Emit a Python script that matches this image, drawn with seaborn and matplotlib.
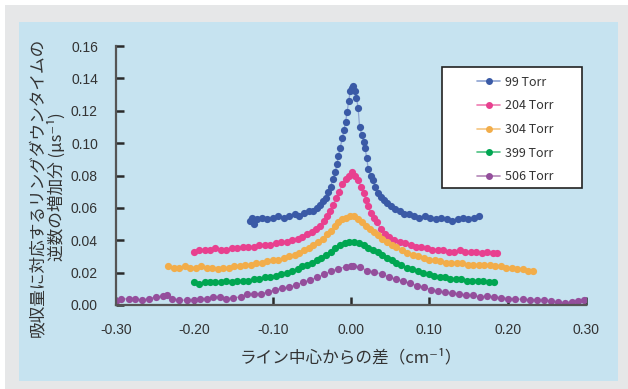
import numpy as np
import pandas as pd
import matplotlib
matplotlib.use("Agg")
import matplotlib.pyplot as plt
from matplotlib.lines import Line2D
from matplotlib.patches import Rectangle
import seaborn as sns

# ---- data ----
labels = ["99 Torr", "204 Torr", "304 Torr", "399 Torr", "506 Torr"]
colors = ["#3a5aa6", "#e8408f", "#f2ad4a", "#00a652", "#944f9c"]
line_colors = ["#8da3d2", "#ef7db2", "#f5c580", "#4dc182", "#b487b8"]

x_99 = [-0.129, -0.126, -0.124, -0.120, -0.114, -0.107, -0.100, -0.093, -0.086, -0.079,
        -0.072, -0.066, -0.060, -0.054, -0.049, -0.044, -0.040, -0.036, -0.032, -0.029,
        -0.026, -0.023, -0.020, -0.018, -0.016, -0.014, -0.011, -0.009, -0.007, -0.005,
        -0.003, -0.001, 0.001, 0.003, 0.005, 0.007, 0.009, 0.011, 0.014, 0.016,
        0.018, 0.020, 0.022, 0.025, 0.028, 0.031, 0.034, 0.038, 0.042, 0.046,
        0.051, 0.056, 0.062, 0.068, 0.074, 0.080, 0.087, 0.094, 0.101, 0.108,
        0.115, 0.122, 0.129, 0.136, 0.143, 0.150, 0.157, 0.163]
y_99 = [0.052, 0.054, 0.050, 0.053, 0.054, 0.053, 0.054, 0.055, 0.054, 0.055,
        0.056, 0.055, 0.057, 0.058, 0.058, 0.060, 0.062, 0.064, 0.066, 0.070,
        0.073, 0.078, 0.082, 0.087, 0.092, 0.097, 0.103, 0.108, 0.113, 0.119,
        0.126, 0.132, 0.134, 0.135, 0.132, 0.128, 0.122, 0.110, 0.105, 0.101,
        0.097, 0.091, 0.084, 0.080, 0.077, 0.073, 0.069, 0.067, 0.065, 0.063,
        0.061, 0.059, 0.058, 0.056, 0.056, 0.055, 0.054, 0.055, 0.054, 0.053,
        0.054, 0.053, 0.052, 0.053, 0.054, 0.053, 0.054, 0.055]

x_204 = [-0.201, -0.194, -0.187, -0.180, -0.173, -0.166, -0.159, -0.152, -0.145, -0.138,
         -0.131, -0.124, -0.117, -0.110, -0.103, -0.096, -0.089, -0.082, -0.075, -0.068,
         -0.062, -0.056, -0.050, -0.045, -0.040, -0.035, -0.031, -0.027, -0.023, -0.019,
         -0.015, -0.011, -0.007, -0.003, 0.001, 0.005, 0.009, 0.013, 0.016, 0.019,
         0.022, 0.025, 0.029, 0.033, 0.038, 0.043, 0.049, 0.055, 0.062, 0.069,
         0.076, 0.083, 0.090, 0.097, 0.104, 0.111, 0.118, 0.125, 0.132, 0.139,
         0.146, 0.153, 0.160, 0.167, 0.174, 0.181, 0.187]
y_204 = [0.033, 0.034, 0.034, 0.034, 0.035, 0.034, 0.034, 0.035, 0.035, 0.036,
         0.036, 0.036, 0.037, 0.037, 0.037, 0.038, 0.039, 0.039, 0.040, 0.041,
         0.042, 0.044, 0.045, 0.047, 0.049, 0.052, 0.055, 0.058, 0.062, 0.066,
         0.070, 0.075, 0.078, 0.080, 0.082, 0.080, 0.077, 0.073, 0.069, 0.065,
         0.061, 0.057, 0.054, 0.051, 0.047, 0.044, 0.042, 0.040, 0.039, 0.038,
         0.037, 0.036, 0.036, 0.035, 0.034, 0.034, 0.034, 0.033, 0.033, 0.034,
         0.033, 0.033, 0.033, 0.032, 0.033, 0.032, 0.032]

x_304 = [-0.233, -0.226, -0.219, -0.212, -0.205, -0.198, -0.191, -0.184, -0.177, -0.170,
         -0.163, -0.156, -0.149, -0.142, -0.135, -0.128, -0.121, -0.114, -0.107, -0.100,
         -0.093, -0.086, -0.079, -0.072, -0.066, -0.060, -0.054, -0.048, -0.042, -0.036,
         -0.031, -0.026, -0.021, -0.016, -0.011, -0.006, -0.001, 0.004, 0.009, 0.014,
         0.019, 0.024, 0.029, 0.034, 0.040, 0.046, 0.052, 0.058, 0.065, 0.072,
         0.079, 0.086, 0.093, 0.100, 0.107, 0.114, 0.121, 0.128, 0.135, 0.142,
         0.149, 0.156, 0.163, 0.170, 0.177, 0.184, 0.191, 0.198, 0.205, 0.212,
         0.219, 0.226, 0.232]
y_304 = [0.024, 0.023, 0.023, 0.024, 0.023, 0.023, 0.024, 0.023, 0.023, 0.022,
         0.023, 0.023, 0.024, 0.024, 0.025, 0.025, 0.026, 0.026, 0.027, 0.028,
         0.028, 0.029, 0.030, 0.031, 0.032, 0.034, 0.035, 0.037, 0.039, 0.041,
         0.044, 0.046, 0.049, 0.051, 0.053, 0.054, 0.055, 0.055, 0.053, 0.051,
         0.049, 0.047, 0.045, 0.043, 0.041, 0.039, 0.037, 0.036, 0.034, 0.032,
         0.031, 0.030, 0.029, 0.028, 0.028, 0.027, 0.026, 0.026, 0.026, 0.026,
         0.025, 0.025, 0.025, 0.025, 0.025, 0.024, 0.024, 0.023, 0.023, 0.022,
         0.022, 0.021, 0.021]

x_399 = [-0.201, -0.194, -0.187, -0.180, -0.173, -0.166, -0.159, -0.152, -0.145, -0.138,
         -0.131, -0.124, -0.117, -0.110, -0.103, -0.096, -0.089, -0.082, -0.075, -0.068,
         -0.062, -0.056, -0.050, -0.044, -0.038, -0.032, -0.026, -0.020, -0.014, -0.008,
         -0.002, 0.004, 0.010, 0.016, 0.022, 0.028, 0.034, 0.040, 0.046, 0.052,
         0.058, 0.064, 0.071, 0.078, 0.085, 0.092, 0.099, 0.106, 0.113, 0.120,
         0.127, 0.134, 0.141, 0.148, 0.155, 0.162, 0.169, 0.176, 0.183]
y_399 = [0.014, 0.013, 0.014, 0.014, 0.014, 0.014, 0.015, 0.014, 0.015, 0.015,
         0.015, 0.016, 0.016, 0.017, 0.017, 0.018, 0.019, 0.020, 0.021, 0.022,
         0.024, 0.025, 0.026, 0.028, 0.029, 0.031, 0.033, 0.035, 0.037, 0.038,
         0.039, 0.039, 0.038, 0.037, 0.035, 0.034, 0.033, 0.031, 0.029, 0.028,
         0.026, 0.025, 0.023, 0.022, 0.021, 0.020, 0.019, 0.018, 0.017, 0.017,
         0.016, 0.016, 0.016, 0.015, 0.015, 0.015, 0.015, 0.014, 0.014]

x_506 = [-0.300, -0.293, -0.284, -0.276, -0.267, -0.258, -0.249, -0.240, -0.235, -0.228,
         -0.219, -0.210, -0.201, -0.193, -0.184, -0.176, -0.167, -0.159, -0.150, -0.141,
         -0.133, -0.124, -0.115, -0.106, -0.097, -0.088, -0.079, -0.070, -0.061, -0.052,
         -0.043, -0.034, -0.025, -0.016, -0.007, 0.000, 0.003, 0.012, 0.021, 0.030,
         0.039, 0.048, 0.057, 0.066, 0.075, 0.084, 0.093, 0.102, 0.111, 0.120,
         0.129, 0.138, 0.147, 0.156, 0.165, 0.174, 0.183, 0.192, 0.201, 0.210,
         0.219, 0.228, 0.237, 0.246, 0.255, 0.264, 0.273, 0.282, 0.290, 0.297]
y_506 = [0.0025, 0.0035, 0.004, 0.004, 0.003, 0.004, 0.005, 0.0055, 0.006, 0.004,
         0.003, 0.003, 0.003, 0.004, 0.004, 0.005, 0.005, 0.004, 0.0045, 0.005,
         0.0065, 0.007, 0.007, 0.008, 0.0095, 0.0105, 0.011, 0.0125, 0.014, 0.0155,
         0.017, 0.019, 0.021, 0.0225, 0.0235, 0.024, 0.024, 0.0235, 0.021, 0.0205,
         0.019, 0.0175, 0.016, 0.0148, 0.0135, 0.012, 0.011, 0.0095, 0.0085, 0.0078,
         0.0073, 0.007, 0.006, 0.006, 0.005, 0.0055, 0.005, 0.0045, 0.004, 0.0038,
         0.0035, 0.0032, 0.003, 0.003, 0.0025, 0.002, 0.0015, 0.002, 0.0025, 0.003]

xs = [x_99, x_204, x_304, x_399, x_506]
ys = [y_99, y_204, y_304, y_399, y_506]

x_ticks = [-0.30, -0.20, -0.10, 0.00, 0.10, 0.20, 0.30]
y_ticks = [0.00, 0.02, 0.04, 0.06, 0.08, 0.10, 0.12, 0.14, 0.16]

sns.set_style("white", {'xtick.bottom': True, 'ytick.left': True,
                        'xtick.direction': 'in', 'ytick.direction': 'in'})
plt.rcParams['font.family'] = ['Liberation Sans', 'Noto Sans CJK JP', 'DejaVu Sans']
jp = ['Noto Sans CJK JP', 'DejaVu Sans']

W, H = 628, 389
fig = plt.figure(figsize=(W / 100, H / 100), dpi=100, facecolor='white')

# grey frame and light blue panel (behind everything)
fig.patches.append(Rectangle((5 / W, 0), 1, 1 - 5 / H, transform=fig.transFigure,
                             facecolor='#e6e7e8', edgecolor='none', zorder=-2))
fig.patches.append(Rectangle((19 / W, 1 - 381 / H), (618 - 19) / W, (381 - 22) / H,
                             transform=fig.transFigure, facecolor='#c6e3f0',
                             edgecolor='none', zorder=-1))

ax = fig.add_axes([116 / W, 1 - 305 / H, (586 - 116) / W, (305 - 46) / H])
ax.set_zorder(1)
ax.patch.set_visible(False)

for x, y, c, lc in zip(xs, ys, colors, line_colors):
    df = pd.DataFrame({'x': x, 'y': y})
    sns.lineplot(data=df, x='x', y='y', ax=ax, color=lc, linewidth=0.9,
                 marker='o', markersize=5.2, markerfacecolor=c, markeredgecolor=c,
                 markeredgewidth=0, estimator=None, sort=False, legend=False)

ax.set_xlim(-0.30, 0.30)
ax.set_ylim(0, 0.16)
ax.set_xticks(x_ticks)
ax.set_yticks(y_ticks)
ax.set_xticklabels([f"{v:.2f}" for v in x_ticks])
ax.set_yticklabels([f"{v:.2f}" for v in y_ticks])
ax.tick_params(axis='both', which='major', direction='in', length=6, width=1.8,
               color='#2a2a2a', labelsize=10, labelcolor='#333333',
               bottom=True, left=True, top=False, right=False)
ax.tick_params(axis='x', pad=13)
ax.tick_params(axis='y', pad=13)
for tl in ax.xaxis.get_ticklines() + ax.yaxis.get_ticklines():
    tl.set_zorder(5)
for s in ['top', 'right']:
    ax.spines[s].set_visible(False)
for s in ['left', 'bottom']:
    ax.spines[s].set_color('#555555')
    ax.spines[s].set_linewidth(1.6)
ax.set_xlabel('')
ax.set_ylabel('')

fig.text(351 / W, 1 - 358 / H, 'ライン中心からの差（cm⁻¹）', ha='center', va='center',
         fontsize=12, color='#333333', family=jp)
fig.text(38 / W, 1 - 187 / H, '吸収量に対応するリングダウンタイムの', rotation=90,
         ha='center', va='center', fontsize=12, color='#333333', family=jp)
fig.text(57 / W, 1 - 187 / H, '逆数の増加分 (μs⁻¹)', rotation=90,
         ha='center', va='center', fontsize=12, color='#333333', family=jp)

# legend box
fig.patches.append(Rectangle((442 / W, 1 - 188 / H), 140 / W, 121 / H,
                             transform=fig.transFigure, facecolor='white',
                             edgecolor='#222222', linewidth=1.2, zorder=3))
handles = [Line2D([0], [0], color=lc, marker='o', markersize=5, markerfacecolor=c,
                  markeredgewidth=0, linewidth=1.2)
           for c, lc in zip(colors, line_colors)]
leg = fig.legend(handles, labels, loc='center', bbox_to_anchor=(515 / W, 1 - 129.5 / H),
                 frameon=False, handlelength=1.9, handletextpad=0.35,
                 labelspacing=0.85, prop={'family': jp, 'size': 9})
leg.set_zorder(4)
for t in leg.get_texts():
    t.set_color('#333333')

fig.savefig('out.png', dpi=100, facecolor=fig.get_facecolor())
